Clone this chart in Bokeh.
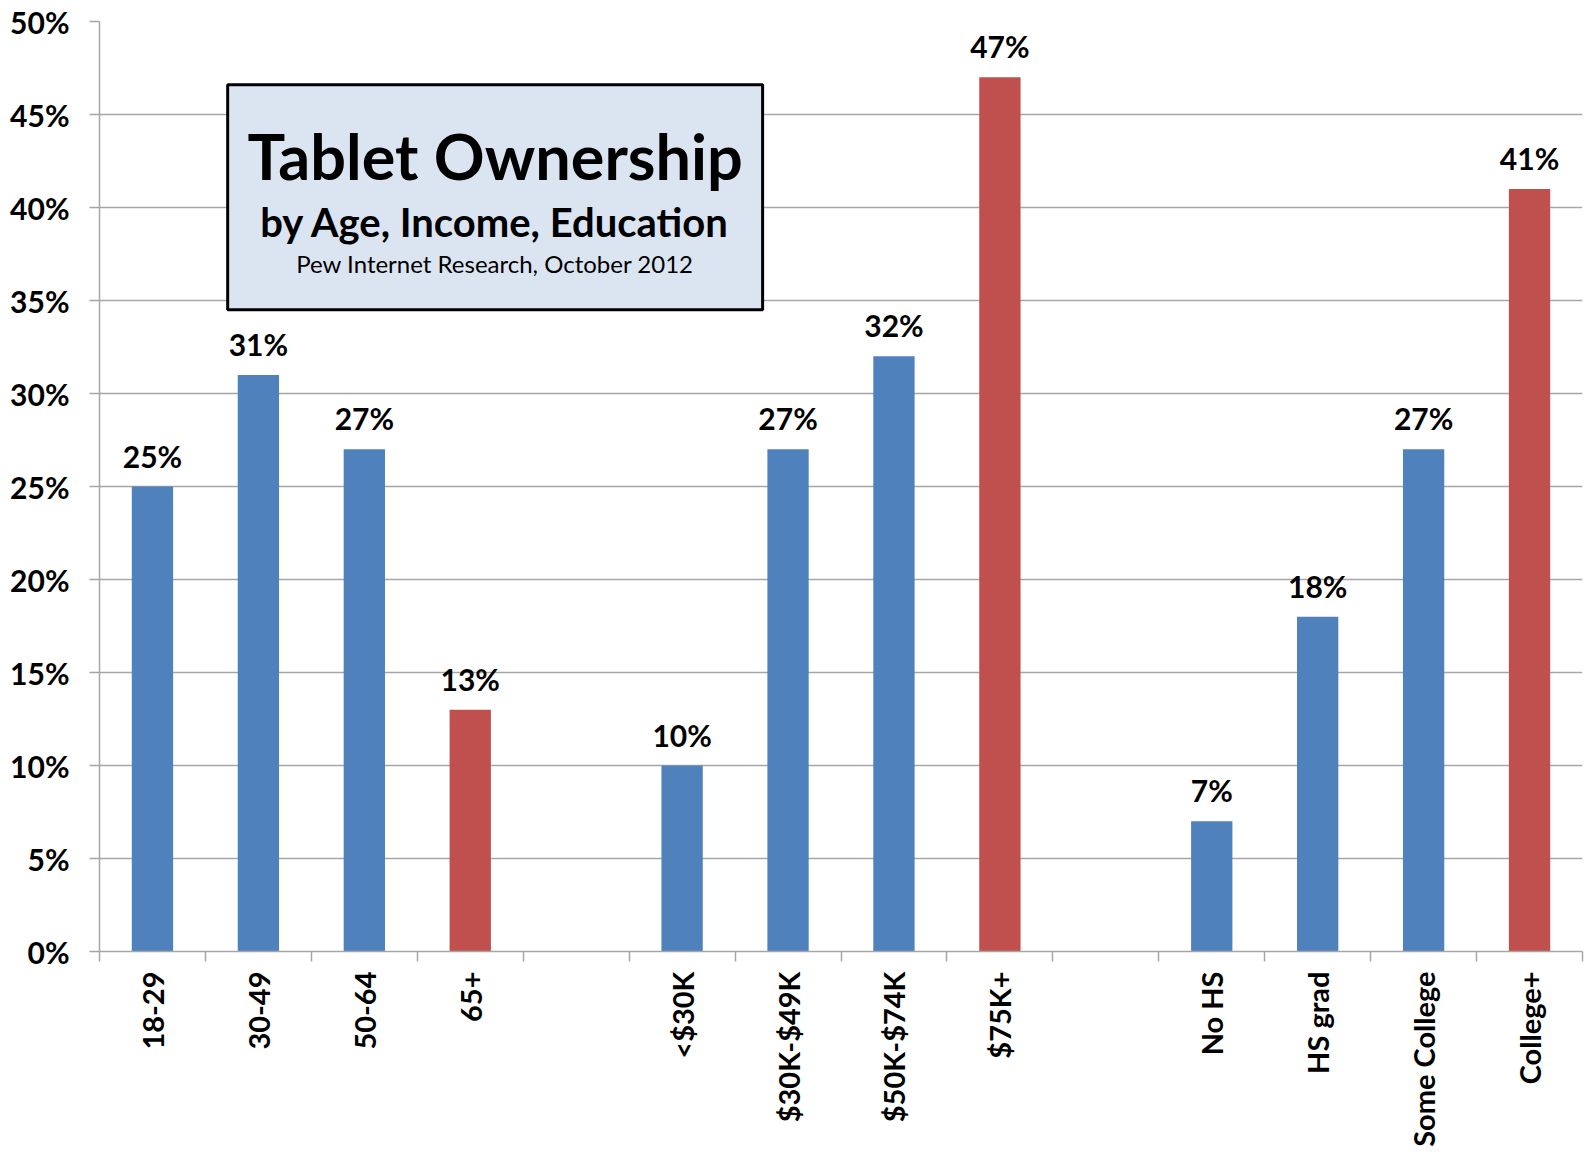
from bokeh.plotting import figure
from bokeh.models import (ColumnDataSource, Range1d, FixedTicker, PrintfTickFormatter,
                          BoxAnnotation, Label)
from bokeh.embed import file_html
from bokeh.resources import INLINE
from bokeh.core.properties import value

# ---- data ----
age_labels = ["18-29", "30-49", "50-64", "65+"]
age_values = [25, 31, 27, 13]
income_labels = ["<$30K", "$30K-$49K", "$50K-$74K", "$75K+"]
income_values = [10, 27, 32, 47]
edu_labels = ["No HS", "HS grad", "Some College", "College+"]
edu_values = [7, 18, 27, 41]
highlight = ["65+", "$75K+", "College+"]
y_ticks = [0, 5, 10, 15, 20, 25, 30, 35, 40, 45, 50]

title = "Tablet Ownership"
subtitle = "by Age, Income, Education"
source_note = "Pew Internet Research, October 2012"

# ---- styles ----
BLUE = "#4F81BD"
RED = "#C0504D"
GRID = "#A6A6A6"
FONT = "Lato"

groups = [(age_labels, age_values), (income_labels, income_values), (edu_labels, edu_values)]
xs, tops, labels, colors, texts = [], [], [], [], []
slot = 0
for gi, (labs, vals) in enumerate(groups):
    for lab, v in zip(labs, vals):
        xs.append(slot + 0.5)
        tops.append(v)
        labels.append(lab)
        colors.append(RED if lab in highlight else BLUE)
        texts.append(f"{v}%")
        slot += 1
    if gi < len(groups) - 1:
        slot += 1
n_slots = slot

src = ColumnDataSource(dict(x=xs, top=tops, color=colors, text=texts))

p = figure(width=1585, height=1168, output_backend="svg", toolbar_location=None,
           x_range=Range1d(0, n_slots), y_range=Range1d(0, 50),
           min_border_left=99, min_border_right=3, min_border_top=21, min_border_bottom=217)
p.outline_line_color = None
p.background_fill_color = "white"
p.border_fill_color = "white"

p.vbar(x="x", top="top", bottom=0, width=0.39, color="color", source=src, line_color=None)
p.text(x="x", y="top", text="text", source=src, text_align="center", text_baseline="middle",
       y_offset=-31, text_font=value(FONT), text_font_style="bold", text_font_size="30px",
       text_color="black")

# y axis
p.yaxis.ticker = FixedTicker(ticks=y_ticks)
p.yaxis.formatter = PrintfTickFormatter(format="%d%%")
p.yaxis.major_label_text_font = FONT
p.yaxis.major_label_text_font_style = "bold"
p.yaxis.major_label_text_font_size = "30px"
p.yaxis.major_label_text_color = "black"
p.yaxis.major_label_standoff = 20
p.yaxis.major_tick_out = 10
p.yaxis.major_tick_in = 0
p.yaxis.minor_tick_line_color = None
p.yaxis.axis_line_color = GRID
p.yaxis.major_tick_line_color = GRID
p.yaxis.axis_line_width = 1.5
p.yaxis.major_tick_line_width = 1.5

# x axis
p.xaxis.ticker = FixedTicker(ticks=xs, minor_ticks=list(range(n_slots + 1)))
p.xaxis.major_label_overrides = {x: lab for x, lab in zip(xs, labels)}
p.xaxis.major_label_orientation = 3.14159265 / 2
p.xaxis.major_label_text_font = FONT
p.xaxis.major_label_text_font_style = "bold"
p.xaxis.major_label_text_font_size = "29px"
p.xaxis.major_label_text_color = "black"
p.xaxis.major_label_standoff = 10
p.xaxis.major_tick_out = 0
p.xaxis.major_tick_in = 0
p.xaxis.major_tick_line_color = None
p.xaxis.minor_tick_out = 10
p.xaxis.minor_tick_in = 0
p.xaxis.minor_tick_line_color = GRID
p.xaxis.minor_tick_line_width = 1.5
p.xaxis.axis_line_color = GRID
p.xaxis.axis_line_width = 1.5

p.xgrid.grid_line_color = None
p.ygrid.ticker = FixedTicker(ticks=y_ticks)
p.ygrid.grid_line_color = GRID
p.ygrid.grid_line_width = 1.5

# title box
box_l, box_r, box_b, box_t = 1.21, 6.26, 34.5, 46.6
cx = (box_l + box_r) / 2
p.add_layout(BoxAnnotation(left=box_l, right=box_r, bottom=box_b, top=box_t,
                           fill_color="#DBE5F1", fill_alpha=1.0,
                           line_color="black", line_width=3, line_alpha=1.0))
p.add_layout(Label(x=cx, y=42.81, text=title, text_align="center", text_baseline="middle",
                   text_font=FONT, text_font_style="bold", text_font_size="63px", text_color="black"))
p.add_layout(Label(x=cx, y=39.23, text=subtitle, text_align="center", text_baseline="middle",
                   text_font=FONT, text_font_style="bold", text_font_size="40px", text_color="black"))
p.add_layout(Label(x=cx, y=37.0, text=source_note, text_align="center", text_baseline="middle",
                   text_font=FONT, text_font_size="24px", text_color="black"))

open("out.html", "w").write(file_html(p, INLINE))
